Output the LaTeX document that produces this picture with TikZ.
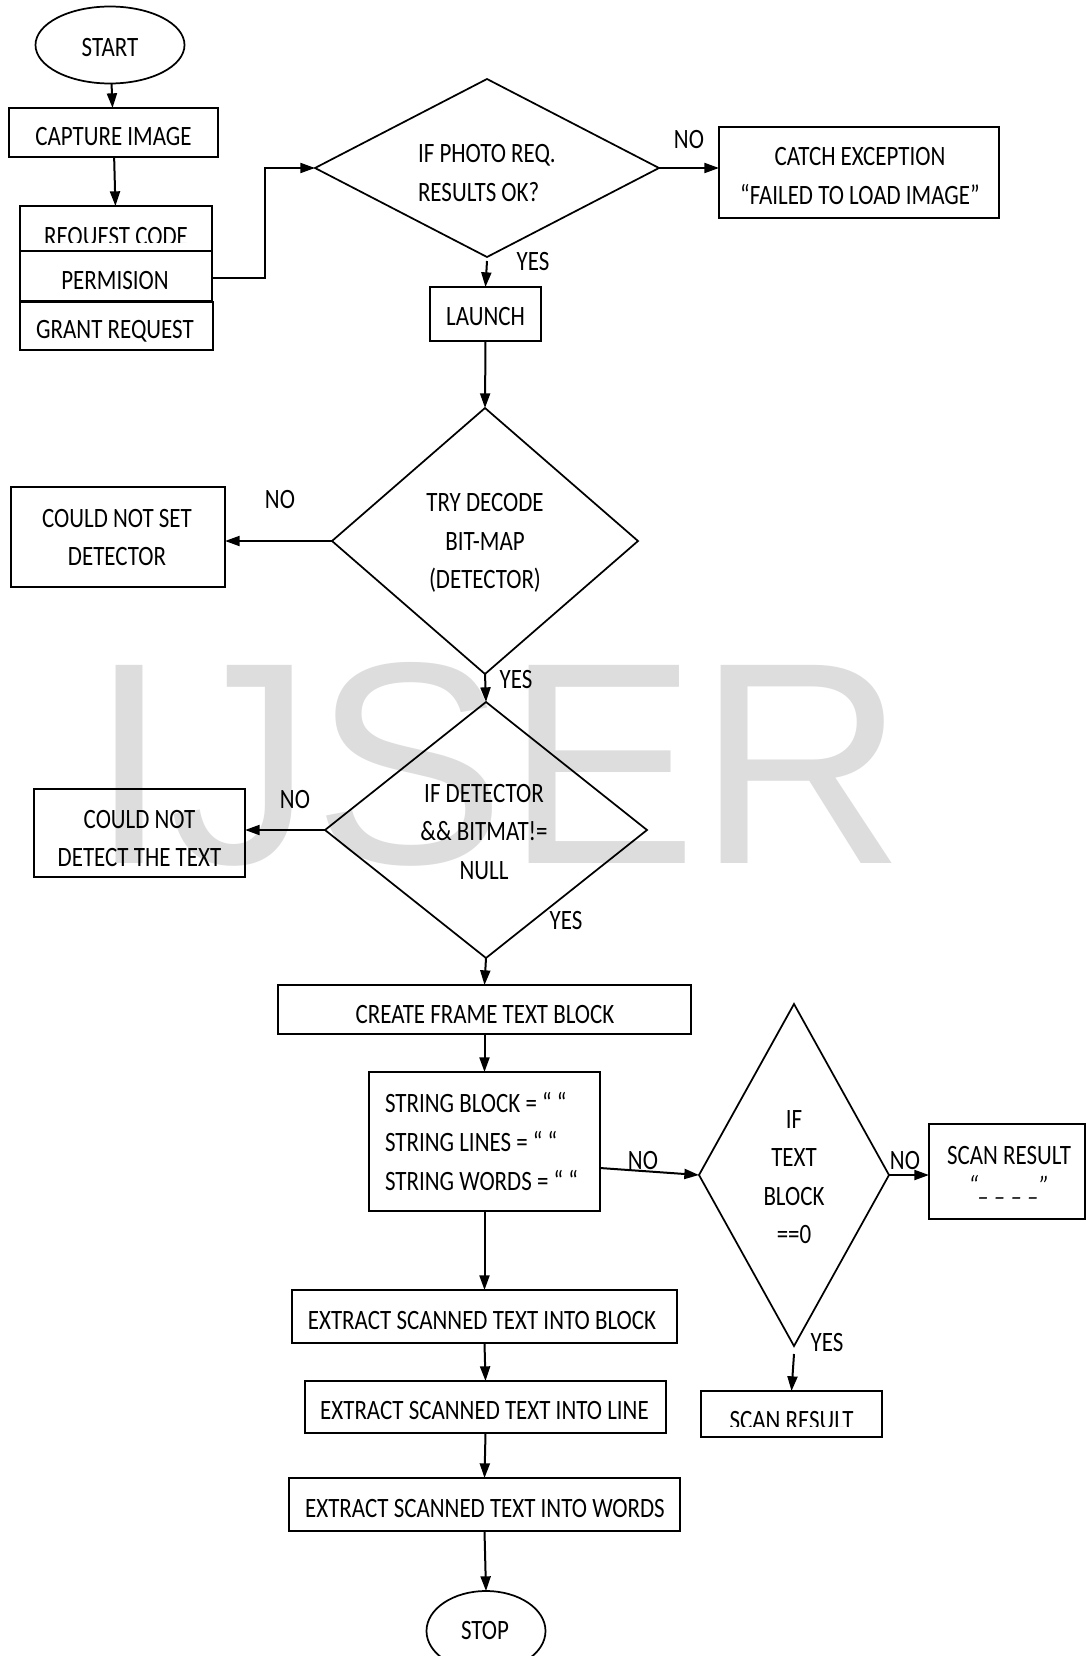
\documentclass[tikz,border=0pt]{standalone}
\usepackage{fontspec}
\usepackage{graphicx}
\setmainfont{Carlito}[FakeStretch=0.82]
\newfontfamily\wmfont{Liberation Sans}
\usetikzlibrary{shapes.geometric,arrows.meta}
\definecolor{wmgray}{RGB}{221,221,221}
\begin{document}
\begin{tikzpicture}[x=0.75pt,y=-0.75pt,
  every node/.style={font=\fontsize{21pt}{28.9pt}\selectfont, inner sep=0pt, outer sep=0pt},
  box/.style={draw, rectangle, line width=1.6pt},
  dec/.style={draw, diamond, line width=1.3pt},
  term/.style={draw, ellipse, line width=1.3pt},
  arr/.style={line width=1.5pt, -{Triangle[length=11pt,width=7.5pt]}},
  ln/.style={line width=1.5pt}
]
\useasboundingbox (0,0) rectangle (1086,1656);
\fill[white] (0,0) rectangle (1086,1656);

% watermark
\node[anchor=base west, text=wmgray, font=\wmfont\fontsize{216pt}{216pt}\selectfont] (wm) at (89,863) {IJSER};

% shapes
\node[term, minimum width=111.75pt, minimum height=57.75pt] (start) at (110,45) {};
\node (start-t) at (110,48) {START};

\node[box, minimum width=156.75pt, minimum height=36.75pt] (cap) at (113.5,132.5) {};
\node (cap-t) at (113.5,137) {CAPTURE IMAGE};

\node[box, minimum width=144pt, minimum height=33.75pt] (req) at (116,228.5) {};
\begin{scope}
\clip (20,206) rectangle (212,242);
\node[text depth=0pt] (req-t) at (116,236) {REQUEST CODE};
\end{scope}
\node[box, minimum width=144pt, minimum height=37.5pt] (perm) at (116,276) {};
\node (perm-t) at (115,281) {PERMISION};
\node[box, minimum width=144.75pt, minimum height=36pt] (grant) at (116.5,326) {};
\node (grant-t) at (115,331) {GRANT REQUEST};

\node[dec, minimum width=258pt, minimum height=133.5pt] (d1) at (487,168) {};
\node[align=left, anchor=west] (d1-t) at (418,173) {IF PHOTO REQ.\\RESULTS OK?};

\node[box, minimum width=210pt, minimum height=68.25pt] (catch) at (859,172.5) {};
\node[align=center] (catch-t) at (860,176) {CATCH EXCEPTION\\“FAILED TO LOAD IMAGE”};

\node[box, minimum width=83.25pt, minimum height=40.5pt] (launch) at (485.5,314) {};
\node (launch-t) at (485.5,317) {LAUNCH};

\node[dec, minimum width=229.5pt, minimum height=199.5pt] (d2) at (485,541) {};
\node[align=center] (d2-t) at (485,543) {TRY DECODE\\BIT-MAP\\(DETECTOR)};

\node[box, minimum width=160.5pt, minimum height=75pt] (cnsd) at (118,537) {};
\node[align=center] (cnsd-t) at (117,537.5) {COULD NOT SET\\DETECTOR};

\node[dec, minimum width=241.5pt, minimum height=192pt] (d3) at (486,830) {};
\node[align=center] (d3-t) at (484,832) {IF DETECTOR\\\&\& BITMAT!=\\NULL};

\node[box, minimum width=158.25pt, minimum height=66pt] (cndt) at (139.5,833) {};
\node[align=center] (cndt-t) at (139.5,838.5) {COULD NOT\\DETECT THE TEXT};

\node[box, minimum width=309.75pt, minimum height=36.75pt] (create) at (484.5,1009.5) {};
\node (create-t) at (485,1014) {CREATE FRAME TEXT BLOCK};

\node[box, minimum width=173.25pt, minimum height=104.25pt] (string) at (484.5,1141.5) {};
\node[align=left, anchor=west] (string-t) at (385,1141.5) {STRING BLOCK = “ “\\STRING LINES = “ “\\STRING WORDS = “ “};

\node[dec, minimum width=142.5pt, minimum height=256.5pt] (d4) at (794,1175) {};
\node[align=center] (d4-t) at (794,1177) {IF\\TEXT\\BLOCK\\==0};

\node[box, minimum width=117pt, minimum height=71.25pt] (scan1) at (1007,1171.5) {};
\node[align=center, anchor=north] (scan1-t) at (1009,1146) {SCAN RESULT\\[-5.5pt]{\itshape “\_ \_ \_ \_”}};

\node[box, minimum width=135.75pt, minimum height=34.5pt] (scan2) at (791.5,1414) {};
\begin{scope}
\clip (701,1391) rectangle (882,1426);
\node[text depth=0pt] (scan2-t) at (791.5,1420) {SCAN RESULT};
\end{scope}

\node[box, minimum width=288.75pt, minimum height=39.75pt] (ex1) at (484.5,1316.5) {};
\node (ex1-t) at (482,1320) {EXTRACT SCANNED TEXT INTO BLOCK};
\node[box, minimum width=270.75pt, minimum height=39pt] (ex2) at (485.5,1407) {};
\node (ex2-t) at (484.5,1410) {EXTRACT SCANNED TEXT INTO LINE};
\node[box, minimum width=293.25pt, minimum height=39.75pt] (ex3) at (484.5,1504.5) {};
\node (ex3-t) at (485,1508.5) {EXTRACT SCANNED TEXT INTO WORDS};

\node[term, minimum width=89.25pt, minimum height=60pt] (stop) at (486,1631) {};
\node (stop-t) at (485,1630) {STOP};

% labels
\node (no1) at (689,140) {NO};
\node (yes1) at (533,262) {YES};
\node (no2) at (280,500) {NO};
\node (yes2) at (516,680) {YES};
\node (no3) at (295,800) {NO};
\node (yes3) at (566,920) {YES};
\node (no4) at (643,1160) {NO};
\node (no5) at (905,1160) {NO};
\node (yes4) at (827,1342) {YES};

% connectors
\draw[arr] (start) -- (cap);
\draw[arr] (cap) -- (req);
\draw[arr] (perm.east) ++(0,2) -- ++(53,0) |- (d1.west);
\draw[arr] (d1.east) -- (d1.east -| catch.west);
\draw[arr] (d1.south) ++(0,4) -- (launch.north);
\draw[arr] (launch.south) -- (d2.north);
\draw[arr] (d2.west) -- (d2.west -| cnsd.east);
\draw[arr] (d2.south) -- (d3.north);
\draw[arr] (d3.west) -- (d3.west -| cndt.east);
\draw[arr] (d3.south) -- (create.north);
\draw[arr] (create.south) -- (string.north);
\draw[arr] (string.east) ++(0,26.5) -- (d4.west);
\draw[arr] (d4.east) -- (d4.east -| scan1.west);
\draw[arr] (d4.south) ++(0,8) -- (scan2.north);
\draw[arr] (string.south) -- (ex1.north);
\draw[arr] (ex1.south) -- (ex2.north);
\draw[arr] (ex2.south) -- (ex3.north);
\draw[arr] (ex3.south) -- (stop.north);
\end{tikzpicture}
\end{document}
